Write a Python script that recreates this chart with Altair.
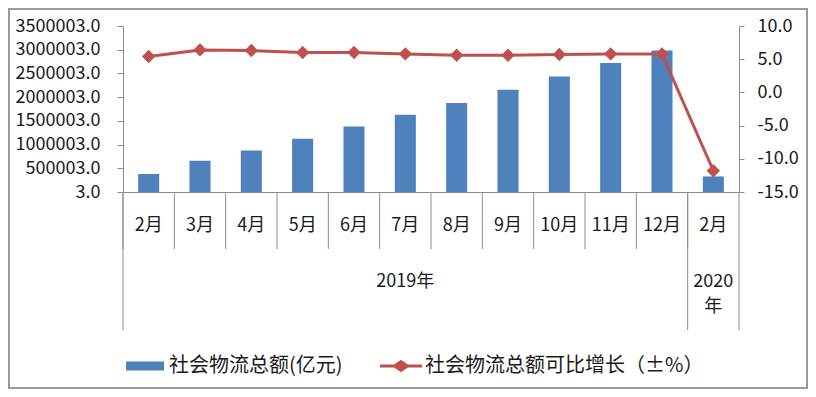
import altair as alt
import pandas as pd

FONT = "Noto Sans CJK SC"
GRAY = "#8C8C8C"
TXT = "#1a1a1a"

# ---- data ----
years = ["2019"] * 11 + ["2020"]
months = ["2月", "3月", "4月", "5月", "6月", "7月", "8月", "9月", "10月", "11月", "12月", "2月"]
totals = [379000, 659000, 876000, 1122000, 1381000, 1627000, 1874000,
          2154000, 2434000, 2722000, 2981000, 328000]
growth = [5.4, 6.4, 6.3, 6.0, 6.0, 5.8, 5.6, 5.6, 5.7, 5.8, 5.8, -11.8]
series_bar = "社会物流总额(亿元)"
series_line = "社会物流总额可比增长（±%）"
left_ticks = [3, 500003, 1000003, 1500003, 2000003, 2500003, 3000003, 3500003]
right_ticks = [-15, -10, -5, 0, 5, 10]
year_cats = ["2019-7月", "2020-2月"]
year_line1 = ["2019年", "2020"]
year_line2_cat = ["2020-2月"]
year_line2 = ["年"]

cats = [f"{y}-{m}" for y, m in zip(years, months)]
df = pd.DataFrame({"cat": cats, "total": totals, "growth": growth,
                   "s1": series_bar, "s2": series_line})

xscale = alt.Scale(domain=cats, paddingInner=0, paddingOuter=0)
xaxis = alt.Axis(title=None, ticks=False, domain=True, domainColor=GRAY,
                 labelExpr="split(datum.label, '-')[1]", labelAngle=0,
                 labelBaseline="middle", labelPadding=33, labelFontSize=18,
                 labelFont=FONT, labelColor=TXT, grid=False)


def X(bp=None):
    if bp is None:
        return alt.X("cat:N", scale=xscale, axis=xaxis)
    return alt.X("cat:N", scale=xscale, axis=xaxis, bandPosition=bp)


bars = alt.Chart(df).mark_bar(width={"band": 0.41}, color="#4F81BD").encode(
    x=X(),
    y=alt.Y("total:Q",
            scale=alt.Scale(domain=[3, 3500003], nice=False, zero=False),
            axis=alt.Axis(title=None, values=left_ticks, format=".1f",
                          grid=False, domainColor=GRAY, tickColor=GRAY,
                          tickSize=6, labelPadding=17, labelFontSize=18,
                          labelFont=FONT, labelColor=TXT)),
    fill=alt.Fill("s1:N", scale=alt.Scale(domain=[series_bar], range=["#4F81BD"]),
                  legend=alt.Legend(title=None, orient="none", legendX=3, legendY=321,
                                    symbolType="M-1,-0.24H1V0.24H-1Z", symbolSize=1444,
                                    symbolStrokeWidth=0, labelFontSize=20, labelFont=FONT,
                                    labelColor=TXT, labelOffset=5, labelLimit=400,
                                    padding=0)),
)

right_axis = alt.Axis(title=None, orient="right", values=right_ticks,
                      labelExpr="datum.value < 0 ? '-' + format(-datum.value, '.1f') : format(datum.value, '.1f')",
                      grid=False, domainColor=GRAY, tickColor=GRAY, tickSize=5,
                      labelPadding=13, labelFontSize=18, labelFont=FONT, labelColor=TXT)
yr = alt.Y("growth:Q", scale=alt.Scale(domain=[-15, 10], nice=False, zero=False),
           axis=right_axis)

line = alt.Chart(df).mark_line(color="#C0504D", strokeWidth=3).encode(x=X(), y=yr)
pts = alt.Chart(df).mark_point(shape="diamond", filled=True, size=180, opacity=1).encode(
    x=X(), y=yr,
    fill=alt.Fill("s2:N", scale=alt.Scale(domain=[series_line], range=["#C0504D"]),
                  legend=alt.Legend(title=None, orient="none", legendX=257, legendY=319,
                                    symbolType="M-1,-0.07H-0.33L0,-0.3L0.33,-0.07H1V0.07H0.33L0,0.3L-0.33,0.07H-1Z",
                                    symbolSize=1764, symbolStrokeWidth=0,
                                    labelFontSize=20, labelFont=FONT, labelColor=TXT,
                                    labelOffset=3, labelLimit=500, padding=0)),
)
growth_layer = alt.layer(line, pts)

short_rules = alt.Chart(df).mark_rule(color=GRAY, strokeWidth=1).encode(
    x=X(0), y=alt.value(166), y2=alt.value(223))
long_left = alt.Chart(df[df["cat"].isin([cats[0], cats[-1]])]).mark_rule(
    color=GRAY, strokeWidth=1).encode(x=X(0), y=alt.value(166), y2=alt.value(304))
long_right = alt.Chart(df[df["cat"] == cats[-1]]).mark_rule(
    color=GRAY, strokeWidth=1).encode(x=X(1), y=alt.value(166), y2=alt.value(304))

ydf1 = pd.DataFrame({"cat": year_cats, "label": year_line1})
ydf2 = pd.DataFrame({"cat": year_line2_cat, "label": year_line2})
ytext1 = alt.Chart(ydf1).mark_text(fontSize=18, font=FONT, color=TXT,
                                   baseline="middle").encode(
    x=X(), y=alt.value(256), text="label:N")
ytext2 = alt.Chart(ydf2).mark_text(fontSize=18, font=FONT, color=TXT,
                                   baseline="middle").encode(
    x=X(), y=alt.value(281), text="label:N")

frame = alt.Chart(pd.DataFrame({"a": [0]})).mark_rect(
    fillOpacity=0, stroke="#9A9A9A", strokeWidth=2).encode(
    x=alt.value(-114), x2=alt.value(684), y=alt.value(-17), y2=alt.value(362))

chart = alt.layer(
    frame, bars, growth_layer, short_rules, long_left, long_right, ytext1, ytext2
).resolve_scale(
    y="independent", fill="independent"
).resolve_legend(
    fill="independent"
).properties(
    width=616, height=166,
    autosize=alt.AutoSizeParams(type="none"),
    padding={"left": 115, "top": 18, "right": 69, "bottom": 197},
    background="white",
).configure_view(strokeWidth=0)

chart.save("out.html", embed_options={"renderer": "svg", "actions": False})
